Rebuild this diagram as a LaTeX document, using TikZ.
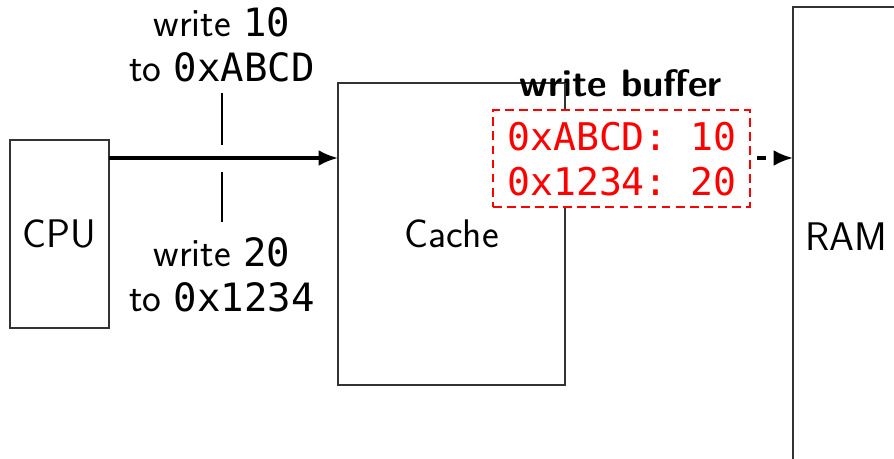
\documentclass[tikz,border=0pt]{standalone}
\usepackage{fontspec}
\setmonofont{DejaVu Sans Mono}
\usetikzlibrary{arrows.meta}
\begin{document}
\begin{tikzpicture}[x=0.02cm,y=-0.02cm,
  box/.style={draw=black!80,line width=0.6pt,fill=white,inner sep=0pt},
  lbl/.style={font=\fontsize{22.7}{25.5}\selectfont\sffamily,align=center,inner sep=0pt},
  mono/.style={font=\fontsize{21.7}{25.5}\selectfont\ttfamily},
  buf/.style={draw=red,line width=1.7pt,dash pattern=on 5pt off 3pt,fill=white,inner sep=0pt},
  conn/.style={line width=1.8pt,-{Latex[length=11pt,width=9pt]}}]
\useasboundingbox (0,0) rectangle (894,459);
\node[box,minimum width=99*0.02cm,minimum height=188*0.02cm] (cpu) at (59.5,234) {};
\node[lbl] at (cpu.center) {CPU};
\node[box,minimum width=227*0.02cm,minimum height=302*0.02cm] (cache) at (451.5,234) {};
\node[lbl] at (cache.center) {Cache};
\node[box,minimum width=120*0.02cm,minimum height=480*0.02cm] (ram) at (853,247) {};
\node[lbl] at (846,237) {RAM};
\node[lbl,font=\fontsize{21.7}{25.5}\selectfont\sffamily\bfseries] (wbl) at (621,83) {write buffer};
\draw[black!80,line width=0.6pt] (565,83) -- (565,110);
\node[buf,minimum width=257*0.02cm,minimum height=97*0.02cm] (buf) at (621.5,158.5) {};
\node[lbl,mono,text=red,align=left] (bt) at (622,159.5) {0xABCD: 10\\0x1234: 20};
\coordinate (cpuout) at (109,158);
\coordinate (cachein) at (338,158);
\draw[conn] (cpuout) -- (cachein);
\coordinate (bufout) at (750,158);
\coordinate (ramin) at (793,158);
\draw[line width=1.8pt,dash pattern=on 0pt off 4pt on 5pt off 10pt,-{Latex[length=11pt,width=9pt]}] (bufout) -- (ramin);
\node[lbl] (w1) at (222,45) {write {\fontsize{22.2}{25.5}\selectfont\ttfamily 10}\\to {\fontsize{22.2}{25.5}\selectfont\ttfamily 0xABCD}};
\node[lbl] (w2) at (222,275) {write {\fontsize{22.2}{25.5}\selectfont\ttfamily 20}\\to {\fontsize{22.2}{25.5}\selectfont\ttfamily 0x1234}};
\coordinate (t1) at (222,93);
\coordinate (t2) at (222,145);
\coordinate (t3) at (222,172);
\coordinate (t4) at (222,222);
\draw[line width=0.7pt] (t1) -- (t2);
\draw[line width=0.7pt] (t3) -- (t4);
\end{tikzpicture}
\end{document}
